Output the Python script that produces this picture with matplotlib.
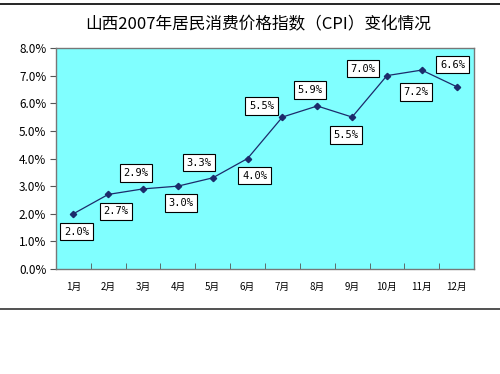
import matplotlib
matplotlib.use('Agg')
import matplotlib.pyplot as plt
from matplotlib.lines import Line2D
from matplotlib.ticker import FuncFormatter, FixedLocator

plt.rcParams['font.family'] = ['Noto Sans CJK SC', 'DejaVu Sans']

# data
months = ['1月', '2月', '3月', '4月', '5月', '6月',
          '7月', '8月', '9月', '10月', '11月', '12月']
cpi = [2.0, 2.7, 2.9, 3.0, 3.3, 4.0, 5.5, 5.9, 5.5, 7.0, 7.2, 6.6]
point_labels = ['2.0%', '2.7%', '2.9%', '3.0%', '3.3%', '4.0%',
                '5.5%', '5.9%', '5.5%', '7.0%', '7.2%', '6.6%']
title = '山西2007年居民消费价格指数（CPI）变化情况'

# label offsets (pixels, x right / y down) from each point
label_offsets = [(3, 18), (8, 17), (-7, -16), (3, 17), (-14, -15), (7, 17),
                 (-21, -11), (-7, -16), (-6, 18), (-24, -7), (-6, 22), (-4, -22)]

fig = plt.figure(figsize=(5, 3.74), dpi=100)
ax = fig.add_axes([0.112, 0.2807, 0.836, 0.591])
ax.set_facecolor('#80ffff')

x = list(range(len(cpi)))
ax.plot(x, cpi, color='#1c2b6b', linewidth=0.9, marker='D', markersize=3.2)

px2pt = 72 / 100
for xi, yi, lab, (dx, dy) in zip(x, cpi, point_labels, label_offsets):
    ax.annotate(lab, (xi, yi), xytext=(dx * px2pt, -dy * px2pt),
                textcoords='offset points', ha='center', va='center',
                fontsize=7.5, family='DejaVu Sans Mono',
                bbox=dict(boxstyle='square,pad=0.35', fc='white', ec='black', lw=0.8))

ax.set_xlim(-0.5, len(cpi) - 0.5)
ax.set_ylim(0, 8)
ax.set_yticks([0, 1, 2, 3, 4, 5, 6, 7, 8])
ax.yaxis.set_major_formatter(FuncFormatter(lambda v, p: f'{v:.1f}%'))
ax.tick_params(axis='y', direction='out', length=4, labelsize=8.5, pad=3, color='#555555')

ax.set_xticks(x)
ax.set_xticklabels(months, fontsize=7)
ax.xaxis.set_minor_locator(FixedLocator([i + 0.5 for i in range(len(cpi) - 1)]))
ax.tick_params(axis='x', which='major', length=0, pad=9)
ax.tick_params(axis='x', which='minor', direction='in', length=4, color='#555555')

for s in ax.spines.values():
    s.set_color('#777777')
    s.set_linewidth(1)

fig.text(0.516, 0.933, title, ha='center', va='center', fontsize=12)

# horizontal rules above and below the chart
fig.add_artist(Line2D([0, 1], [0.989, 0.989], color='black', linewidth=1.2))
fig.add_artist(Line2D([0, 1], [0.174, 0.174], color='#333333', linewidth=1.2))

fig.savefig('out.png', dpi=100)
